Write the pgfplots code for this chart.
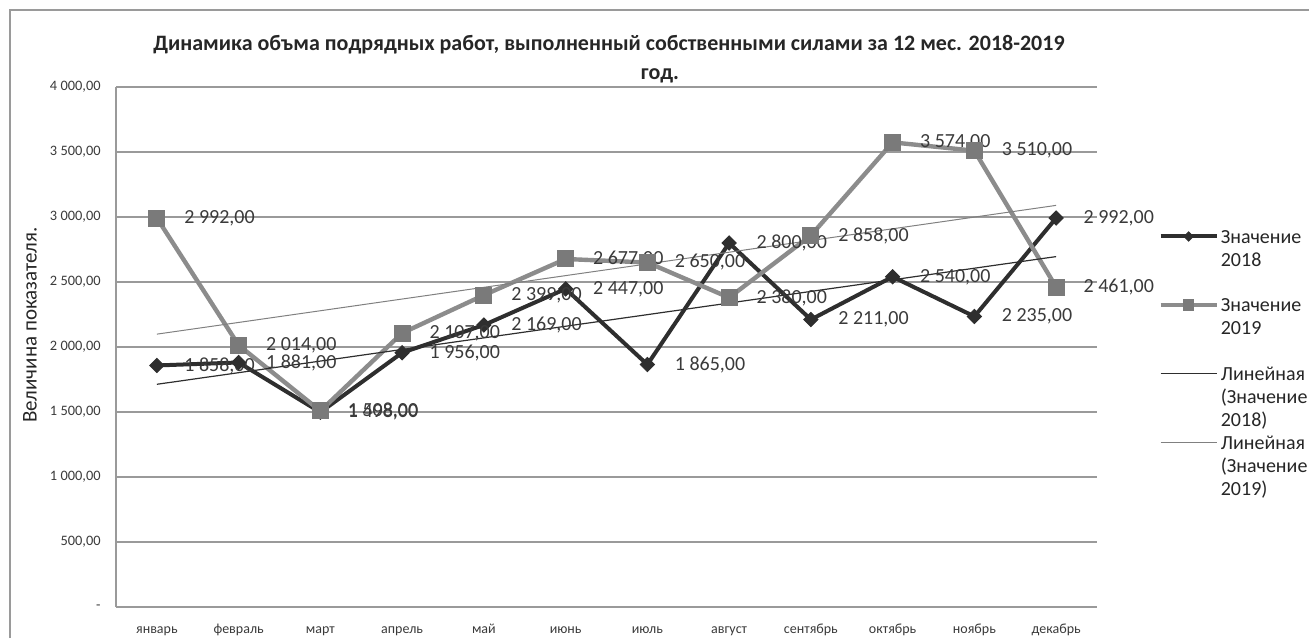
\documentclass[border=0pt]{standalone}
\usepackage{fontspec}
\setmainfont{Carlito}
\usepackage{pgfplots}
\usepackage{pgfplotstable}
\pgfplotsset{compat=1.18}

% volumes by month, 2018 and 2019
\pgfplotstableread{
idx y18 y19
0 1858 2992
1 1881 2014
2 1498 1508
3 1956 2107
4 2169 2399
5 2447 2677
6 1865 2650
7 2800 2380
8 2211 2858
9 2540 3574
10 2235 3510
11 2992 2461
}\volumes

\definecolor{c18}{HTML}{2E2E2E}
\definecolor{c19}{HTML}{8C8C8C}
\definecolor{m19}{HTML}{7A7A7A}
\definecolor{tr19}{HTML}{808080}
\definecolor{txt}{HTML}{3A3A3A}
\definecolor{gridc}{HTML}{9A9A9A}

\begin{document}
\begin{tikzpicture}
\path[use as bounding box] (0,0) rectangle (654.5pt,319pt);
\draw[gridc, line width=0.6pt] (5pt,0) -- (5pt,314pt) -- (660pt,314pt);
\node[font=\bfseries\fontsize{11}{13}\selectfont, text=black!85] at (304.5pt,296.5pt)
  {Динамика объма подрядных работ, выполненный собственными силами за 12 мес. 2018-2019};
\node[font=\bfseries\fontsize{11}{13}\selectfont, text=black!85] at (330pt,281pt) {год.};

\begin{axis}[
  at={(58pt,15.5pt)}, anchor=south west,
  scale only axis, width=490.5pt, height=260pt,
  clip=false,
  xmin=-0.5, xmax=11.5, ymin=0, ymax=4000,
  xtick={0,...,11},
  xticklabels={январь,февраль,март,апрель,май,июнь,июль,август,сентябрь,октябрь,ноябрь,декабрь},
  ytick={0,500,...,4000},
  yticklabels={{-},{500,00},{1 000,00},{1 500,00},{2 000,00},{2 500,00},{3 000,00},{3 500,00},{4 000,00}},
  axis x line*=bottom, axis y line*=left,
  axis line style={gridc, line width=0.6pt, -},
  major tick length=0pt,
  ymajorgrids,
  grid style={gridc, line width=0.6pt},
  xticklabel style={font=\fontsize{7}{8}\selectfont, text=txt, inner sep=0pt,
    anchor=base, yshift=-13pt},
  yticklabel style={font=\fontsize{7.2}{8}\selectfont, text=txt, inner sep=0pt, xshift=-7.5pt},
  ylabel={Величина показателя.},
  ylabel style={at={(axis description cs:-0.0877,0.542)}, anchor=center,
    font=\fontsize{10.5}{12}\selectfont, text=black!85},
  every node near coord/.append style={font=\fontsize{10}{12}\selectfont, text=txt,
    anchor=west, inner sep=0pt, xshift=13.5pt},
  /pgf/number format/fixed,
  /pgf/number format/fixed zerofill,
  /pgf/number format/precision=2,
  /pgf/number format/use comma,
  /pgf/number format/1000 sep={\ },
  /pgf/number format/assume math mode=true,
  legend style={at={(rel axis cs:1.0622,0.732)}, anchor=north west,
    draw=none, fill=none, inner sep=0pt, row sep=1.6pt, column sep=1pt,
    font=\fontsize{10}{11.5}\selectfont,
    cells={anchor=north west},
    nodes={inner sep=0pt, align=left, text=black!85}},
  legend image code/.code={\draw[mark repeat=2, mark phase=2, #1,
      every mark/.append style={scale=0.65}]
    plot coordinates {(0pt,-4.85pt) (14pt,-4.85pt) (28pt,-4.85pt)};},
]
\addplot[c18, line width=2pt, mark=square*, mark size=2.5pt,
  mark options={rotate=45, fill=c18, draw=c18, line width=0.5pt},
  nodes near coords] table[x=idx, y=y18] {\volumes};
\addlegendentry{\strut Значение\\2018\\\strut}
\addplot[c19, line width=2.2pt, mark=square*, mark size=4pt,
  mark options={fill=m19, draw=m19, line width=0.5pt},
  nodes near coords] table[x=idx, y=y19] {\volumes};
\addlegendentry{\strut Значение\\2019\\\strut}
\addplot[c18, line width=0.6pt, no markers]
  table[x=idx, y={create col/linear regression={y=y18}}] {\volumes};
\addlegendentry{\strut Линейная\\(Значение\\2018)\strut}
\addplot[tr19, line width=0.5pt, no markers]
  table[x=idx, y={create col/linear regression={y=y19}}] {\volumes};
\addlegendentry{\strut Линейная\\(Значение\\2019)\strut}
\end{axis}
\end{tikzpicture}
\end{document}
